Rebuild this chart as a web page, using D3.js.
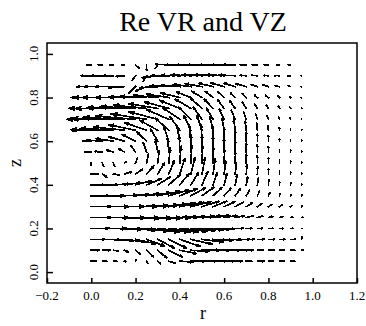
<!DOCTYPE html>
<html>
<head>
<meta charset="utf-8">
<script src="https://cdn.jsdelivr.net/npm/d3@7"></script>
<style>
  html, body { margin: 0; padding: 0; background: #fff; }
  svg { display: block; }
</style>
</head>
<body>
<svg id="chart" width="366" height="326"></svg>
<script>
// Grid of sample points (radius r, height z)
const rGrid = [0.00, 0.05, 0.10, 0.15, 0.20, 0.25, 0.30, 0.35, 0.40, 0.45,
               0.50, 0.55, 0.60, 0.65, 0.70, 0.75, 0.80, 0.85, 0.90, 0.95];
const zGrid = [0.95, 0.90, 0.85, 0.80, 0.75, 0.70, 0.65, 0.60, 0.55, 0.50,
               0.45, 0.40, 0.35, 0.30, 0.25, 0.20, 0.15, 0.10, 0.05];

// Re VR, one row per z (top to bottom), one entry per r
const vrRows = [
  [-0.02,-0.018,-0.015,-0.012,0.015,0,-0.01,-0.06,-0.065,-0.065,-0.065,-0.06,-0.055,-0.055,-0.027,-0.022,-0.018,-0.012,-0.01,0],
  [-0.045,-0.05,-0.045,-0.04,-0.015,-0.015,-0.07,-0.08,-0.085,-0.09,-0.09,-0.085,-0.08,-0.075,-0.028,-0.025,-0.022,-0.02,-0.012,-0.002],
  [-0.065,-0.08,-0.08,-0.07,-0.03,-0.05,-0.08,-0.085,-0.085,-0.08,-0.075,-0.065,-0.058,-0.05,-0.045,-0.03,-0.025,-0.02,-0.01,-0.002],
  [-0.09,-0.13,-0.14,-0.13,-0.12,-0.12,-0.11,-0.1,-0.085,-0.065,-0.045,-0.035,-0.028,-0.022,-0.018,-0.013,-0.012,-0.008,-0.004,-0.002],
  [-0.1,-0.15,-0.17,-0.17,-0.16,-0.15,-0.13,-0.11,-0.09,-0.07,-0.05,-0.04,-0.03,-0.025,-0.018,-0.012,-0.01,-0.006,-0.003,-0.001],
  [-0.1,-0.16,-0.19,-0.19,-0.18,-0.16,-0.13,-0.1,-0.075,-0.055,-0.04,-0.03,-0.022,-0.017,-0.012,-0.008,-0.006,-0.004,-0.002,0],
  [-0.09,-0.14,-0.15,-0.14,-0.12,-0.1,-0.08,-0.06,-0.045,-0.032,-0.022,-0.015,-0.01,-0.007,-0.005,-0.003,-0.002,-0.001,0,0],
  [-0.04,-0.07,-0.08,-0.07,-0.06,-0.045,-0.032,-0.022,-0.014,-0.008,-0.004,-0.002,0,0,0,0,0,0,0,0],
  [-0.03,-0.035,-0.03,-0.025,-0.02,-0.015,-0.01,-0.006,-0.003,0,0,0,0,0,0,0,0,0,0,0],
  [0,0.005,0.005,0.008,0.008,0.008,0.007,0.006,0.005,0.004,0.003,0.002,0.002,0.001,0,0,0,0,0,0],
  [0.03,0.02,0.025,0.03,0.032,0.032,0.03,0.026,0.022,0.018,0.014,0.01,0.007,0.005,0.003,0.002,0.001,0,0,0],
  [0.06,0.07,0.075,0.075,0.07,0.065,0.058,0.05,0.042,0.034,0.026,0.019,0.013,0.009,0.006,0.004,0.002,0.001,0.001,0],
  [0.08,0.1,0.11,0.115,0.115,0.11,0.1,0.09,0.078,0.065,0.052,0.04,0.03,0.022,0.015,0.01,0.006,0.004,0.002,0.001],
  [0.09,0.12,0.14,0.15,0.15,0.145,0.135,0.12,0.105,0.09,0.075,0.06,0.048,0.037,0.028,0.02,0.016,0.012,0.006,0.002],
  [0.09,0.12,0.145,0.16,0.165,0.16,0.15,0.135,0.12,0.105,0.09,0.075,0.06,0.04,0.03,0.025,0.02,0.015,0.01,0.004],
  [0.08,0.11,0.13,0.145,0.15,0.15,0.145,0.135,0.125,0.11,0.095,0.075,0.045,0.035,0.025,0.022,0.02,0.018,0.01,0.004],
  [0.06,0.08,0.09,0.095,0.09,0.08,0.075,0.08,0.09,0.095,0.095,0.09,0.08,0.065,0.035,0.03,0.027,0.024,0.02,0.003],
  [0.035,0.035,0.022,0.015,0.02,0.03,0.04,0.06,0.075,0.08,0.08,0.075,0.07,0.06,0.03,0.027,0.025,0.022,0.018,0.006],
  [0.022,0.02,0.015,0.005,0.003,0.005,0.012,0.03,0.06,0.065,0.065,0.06,0.045,0.03,0.025,0.03,0.022,0.02,0.018,0]
];

// Re VZ, same layout
const vzRows = [
  [0,0,0,0,-0.015,-0.025,-0.015,0.002,0,0,0,0,0,0,0,0,0,0,0,0],
  [0,0,0,-0.003,-0.02,-0.025,-0.01,0,0.002,0.003,0.004,0.004,0.004,0.003,0.002,0.002,0.001,0.001,0,0],
  [0,0,0,-0.005,-0.03,-0.02,-0.005,0.003,0.006,0.01,0.013,0.015,0.016,0.015,0.013,0.01,0.008,0.005,0.003,0],
  [0,0,0,0,0.002,0.005,0.01,0.015,0.02,0.025,0.028,0.028,0.026,0.022,0.018,0.012,0.01,0.007,0.004,0],
  [0,0,0,0.003,0.008,0.015,0.022,0.03,0.037,0.042,0.045,0.043,0.04,0.035,0.028,0.02,0.015,0.01,0.006,0.002],
  [0,0,0.003,0.008,0.015,0.025,0.035,0.045,0.052,0.056,0.056,0.052,0.047,0.04,0.032,0.025,0.018,0.012,0.008,0.003],
  [0,0.003,0.008,0.015,0.025,0.035,0.045,0.055,0.062,0.066,0.066,0.062,0.055,0.05,0.04,0.032,0.022,0.012,0.008,0.004],
  [0,0.005,0.012,0.02,0.03,0.042,0.055,0.065,0.072,0.075,0.074,0.07,0.062,0.05,0.04,0.032,0.025,0.012,0.008,0.004],
  [0,0.003,0.008,0.015,0.028,0.042,0.056,0.068,0.076,0.08,0.078,0.073,0.064,0.05,0.04,0.032,0.025,0.012,0.008,0.004],
  [-0.01,-0.015,-0.015,0.005,0.022,0.04,0.056,0.068,0.076,0.08,0.078,0.072,0.062,0.05,0.04,0.032,0.025,0.012,0.008,0.004],
  [0,-0.015,-0.005,0.008,0.022,0.036,0.05,0.062,0.07,0.074,0.073,0.068,0.06,0.05,0.04,0.032,0.024,0.012,0.008,0.004],
  [0,0,0.004,0.01,0.018,0.027,0.036,0.045,0.052,0.057,0.058,0.056,0.051,0.045,0.038,0.03,0.022,0.012,0.007,0.004],
  [0,0,0.002,0.005,0.009,0.014,0.02,0.026,0.032,0.036,0.038,0.037,0.034,0.03,0.025,0.02,0.015,0.01,0.006,0.003],
  [0,0,0,0.002,0.004,0.007,0.011,0.015,0.019,0.022,0.024,0.024,0.022,0.02,0.017,0.013,0.01,0.007,0.004,0.002],
  [0,0,-0.002,-0.003,-0.003,-0.002,0,0.002,0.004,0.006,0.008,0.009,0.009,0.008,0.007,0.006,0.005,0.004,0.002,0.001],
  [0,0,-0.004,-0.008,-0.012,-0.015,-0.016,-0.015,-0.013,-0.01,-0.007,-0.004,-0.002,0,0,0,0,0,0,0],
  [0,-0.002,-0.006,-0.012,-0.02,-0.03,-0.04,-0.04,-0.032,-0.022,-0.012,-0.005,-0.002,0,0,0,0,0,0,0.01],
  [0,0,-0.003,-0.008,-0.018,-0.03,-0.035,-0.03,-0.015,-0.005,0,0,0,0,0,0,0,0,0,0],
  [0,0,0,-0.003,0.008,-0.01,-0.012,-0.01,-0.004,0,0,0,0,0,0,0,0,0,0,0]
];

const xTicks = [-0.2, 0.0, 0.2, 0.4, 0.6, 0.8, 1.0, 1.2];
const yTicks = [0.0, 0.2, 0.4, 0.6, 0.8, 1.0];
const titleText = "Re VR and VZ";
const xTitle = "r";
const yTitle = "z";

const serif = "'Liberation Serif'";

const svg = d3.select("#chart");
const plot = { left: 47, right: 357, top: 43, bottom: 283 };

const x = d3.scaleLinear().domain([-0.2, 1.2]).range([plot.left, plot.right]);
const y = d3.scaleLinear().domain([-0.05, 1.05]).range([plot.bottom, plot.top]);

// Arrows: tail at the grid point, slim head at the tip
const headLen = 0.16, headAng = 18 * Math.PI / 180;
const ct = headLen * Math.cos(headAng), st = headLen * Math.sin(headAng);

const vectors = [];
zGrid.forEach((z, i) => {
  rGrid.forEach((r, j) => {
    const u = vrRows[i][j], w = vzRows[i][j];
    if (u === 0 && w === 0) return;
    vectors.push({ r, z, u, w });
  });
});

const arrowPath = d => {
  const x0 = x(d.r), y0 = y(d.z);
  const x1 = x(d.r + d.u), y1 = y(d.z + d.w);
  const dx = x1 - x0, dy = y1 - y0;
  const hx1 = x1 - (ct * dx - st * dy), hy1 = y1 - (ct * dy + st * dx);
  const hx2 = x1 - (ct * dx + st * dy), hy2 = y1 - (ct * dy - st * dx);
  return `M${x0},${y0}L${x1},${y1}L${hx1},${hy1}M${x1},${y1}L${hx2},${hy2}`;
};

svg.append("g")
  .attr("fill", "none")
  .attr("stroke", "#000")
  .attr("stroke-width", 1.7)
  .attr("stroke-linecap", "square")
  .attr("shape-rendering", "crispEdges")
  .selectAll("path")
  .data(vectors)
  .join("path")
  .attr("d", arrowPath);

// Frame
svg.append("rect")
  .attr("x", plot.left).attr("y", plot.top)
  .attr("width", plot.right - plot.left).attr("height", plot.bottom - plot.top)
  .attr("fill", "none").attr("stroke", "#000").attr("stroke-width", 1.5);

// Bottom axis: inward ticks
const xAxis = svg.append("g")
  .attr("transform", `translate(0,${plot.bottom})`)
  .call(d3.axisTop(x).tickValues(xTicks).tickSize(5).tickFormat(""));
xAxis.select(".domain").remove();
xAxis.selectAll("line").attr("stroke", "#000").attr("stroke-width", 1.5);

svg.append("g").selectAll("text")
  .data(xTicks)
  .join("text")
  .attr("x", d => x(d))
  .attr("y", plot.bottom + 17)
  .attr("text-anchor", "middle")
  .style("font-family", serif)
  .style("font-size", "13px")
  .attr("fill", "#000")
  .text(d3.format(".1f"));

// Left axis: inward ticks, rotated labels
const yAxis = svg.append("g")
  .attr("transform", `translate(${plot.left},0)`)
  .call(d3.axisRight(y).tickValues(yTicks).tickSize(6).tickFormat(""));
yAxis.select(".domain").remove();
yAxis.selectAll("line").attr("stroke", "#000").attr("stroke-width", 1.5);

svg.append("g").selectAll("text")
  .data(yTicks)
  .join("text")
  .attr("transform", d => `translate(38,${y(d)}) rotate(-90)`)
  .attr("text-anchor", "middle")
  .style("font-family", serif)
  .style("font-size", "13px")
  .attr("fill", "#000")
  .text(d3.format(".1f"));

// Titles
svg.append("text")
  .attr("x", 203).attr("y", 31)
  .attr("text-anchor", "middle")
  .style("font-family", serif)
  .style("font-size", "28px")
  .attr("fill", "#000")
  .text(titleText);

svg.append("text")
  .attr("x", 203).attr("y", 319)
  .attr("text-anchor", "middle")
  .style("font-family", serif)
  .style("font-size", "18px")
  .attr("fill", "#000")
  .text(xTitle);

svg.append("text")
  .attr("transform", `translate(21,163) rotate(-90)`)
  .attr("text-anchor", "middle")
  .style("font-family", serif)
  .style("font-size", "18px")
  .attr("fill", "#000")
  .text(yTitle);
</script>
</body>
</html>
